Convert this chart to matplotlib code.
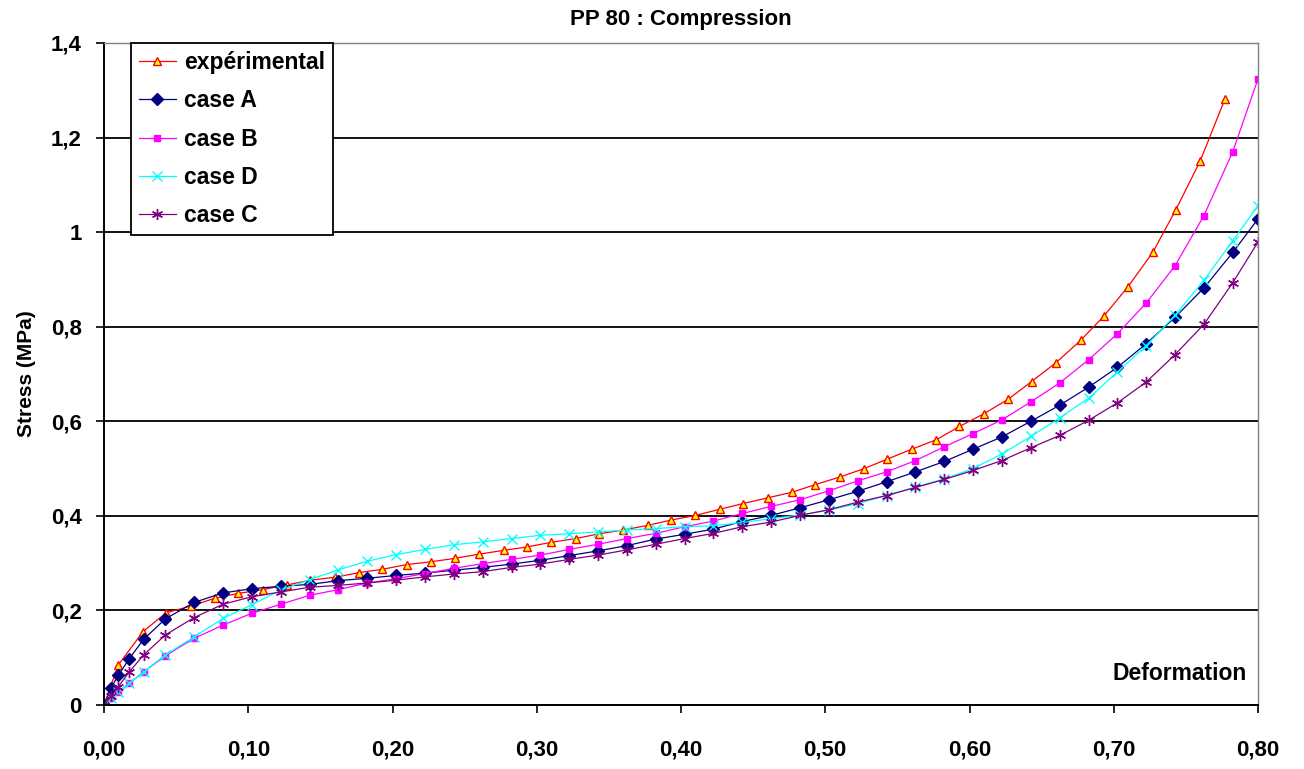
import matplotlib
matplotlib.use("Agg")
import matplotlib.pyplot as plt
from matplotlib.ticker import FixedLocator

plt.rcParams['font.family'] = ['Liberation Sans', 'DejaVu Sans']
plt.rcParams['font.weight'] = 'bold'

# experimental curve (own x sampling)
exp_x = [0, 0.010, 0.027, 0.043, 0.060, 0.077, 0.093, 0.110, 0.127, 0.143,
         0.160, 0.177, 0.193, 0.210, 0.227, 0.243, 0.260, 0.277, 0.293, 0.310,
         0.327, 0.343, 0.360, 0.377, 0.393, 0.410, 0.427, 0.443, 0.460, 0.477,
         0.493, 0.510, 0.527, 0.543, 0.560, 0.577, 0.593, 0.610, 0.627, 0.643,
         0.660, 0.677, 0.693, 0.710, 0.727, 0.743, 0.760, 0.777]
exp_y = [0, 0.085, 0.155, 0.195, 0.209, 0.226, 0.236, 0.244, 0.254, 0.264,
         0.270, 0.280, 0.287, 0.297, 0.303, 0.310, 0.319, 0.327, 0.334, 0.344,
         0.352, 0.362, 0.370, 0.380, 0.391, 0.401, 0.414, 0.426, 0.438, 0.450,
         0.466, 0.482, 0.500, 0.520, 0.541, 0.561, 0.589, 0.616, 0.647, 0.684,
         0.724, 0.771, 0.822, 0.885, 0.957, 1.047, 1.151, 1.281]

# simulated cases share the same x sampling
model_x = [0, 0.005, 0.01, 0.0175, 0.0275, 0.0425, 0.0625, 0.0825, 0.1025, 0.1225,
           0.1425, 0.1625, 0.1825, 0.2025, 0.2225, 0.2425, 0.2625, 0.2825, 0.3025, 0.3225,
           0.3425, 0.3625, 0.3825, 0.4025, 0.4225, 0.4425, 0.4625, 0.4825, 0.5025, 0.5225,
           0.5425, 0.5625, 0.5825, 0.6025, 0.6225, 0.6425, 0.6625, 0.6825, 0.7025, 0.7225,
           0.7425, 0.7625, 0.7825, 0.80]
case_a = [0, 0.037, 0.063, 0.098, 0.139, 0.182, 0.217, 0.237, 0.246, 0.251,
          0.255, 0.263, 0.268, 0.274, 0.279, 0.285, 0.291, 0.298, 0.306, 0.316,
          0.326, 0.337, 0.351, 0.361, 0.372, 0.388, 0.401, 0.417, 0.434, 0.452,
          0.472, 0.493, 0.515, 0.541, 0.567, 0.600, 0.634, 0.672, 0.714, 0.764,
          0.820, 0.882, 0.957, 1.028]
case_b = [0, 0.014, 0.028, 0.046, 0.070, 0.104, 0.141, 0.169, 0.194, 0.213,
          0.232, 0.244, 0.258, 0.267, 0.278, 0.289, 0.299, 0.308, 0.317, 0.329,
          0.340, 0.352, 0.363, 0.377, 0.389, 0.405, 0.420, 0.434, 0.453, 0.474,
          0.493, 0.517, 0.546, 0.574, 0.603, 0.641, 0.681, 0.730, 0.785, 0.850,
          0.929, 1.035, 1.170, 1.324]
case_d = [0, 0.014, 0.028, 0.046, 0.070, 0.106, 0.144, 0.183, 0.212, 0.243,
          0.265, 0.286, 0.304, 0.318, 0.329, 0.339, 0.345, 0.352, 0.359, 0.362,
          0.366, 0.370, 0.373, 0.377, 0.379, 0.386, 0.394, 0.402, 0.412, 0.426,
          0.443, 0.461, 0.478, 0.500, 0.531, 0.568, 0.607, 0.649, 0.704, 0.760,
          0.824, 0.898, 0.982, 1.056]
case_c = [0, 0.018, 0.039, 0.070, 0.106, 0.148, 0.185, 0.213, 0.229, 0.239,
          0.249, 0.253, 0.258, 0.264, 0.271, 0.277, 0.282, 0.291, 0.298, 0.308,
          0.317, 0.328, 0.340, 0.352, 0.363, 0.377, 0.387, 0.401, 0.413, 0.429,
          0.443, 0.460, 0.477, 0.496, 0.517, 0.544, 0.570, 0.602, 0.639, 0.683,
          0.741, 0.805, 0.893, 0.979]

x_ticks = [0, 0.1, 0.2, 0.3, 0.4, 0.5, 0.6, 0.7, 0.8]
x_labels = ["0,00", "0,10", "0,20", "0,30", "0,40", "0,50", "0,60", "0,70", "0,80"]
y_ticks = [0, 0.2, 0.4, 0.6, 0.8, 1.0, 1.2, 1.4]
y_labels = ["0", "0,2", "0,4", "0,6", "0,8", "1", "1,2", "1,4"]

fig = plt.figure(figsize=(13.04, 7.69), dpi=100)
ax = fig.add_axes([104 / 1304, 1 - 705 / 769, 1154 / 1304, 662 / 769])

lw = 0.9
ax.plot(exp_x, exp_y, color='#FF0000', lw=lw, marker='^', ms=5.5,
        mfc='#FFFF00', mec='#FF0000', mew=1, label='expérimental')
ax.plot(model_x, case_a, color='#000080', lw=lw, marker='D', ms=6,
        mfc='#000080', mec='#000080', label='case A')
ax.plot(model_x, case_b, color='#FF00FF', lw=lw, marker='s', ms=4.5,
        mfc='#FF00FF', mec='#FF00FF', label='case B')
ax.plot(model_x, case_d, color='#00FFFF', lw=lw, marker='x', ms=7,
        mew=1, label='case D')
ax.plot(model_x, case_c, color='#800080', lw=lw, marker=(6, 2, 0), ms=8,
        mew=1, label='case C')

ax.set_xlim(0, 0.8)
ax.set_ylim(0, 1.4)
ax.xaxis.set_major_locator(FixedLocator(x_ticks))
ax.yaxis.set_major_locator(FixedLocator(y_ticks))
ax.set_xticklabels(x_labels)
ax.set_yticklabels(y_labels)
ax.tick_params(axis='both', direction='out', length=6, width=1.2, labelsize=16, colors='black')
ax.tick_params(axis='x', pad=19)
ax.tick_params(axis='y', pad=10)

ax.grid(axis='y', color='black', lw=1.3)
ax.set_axisbelow(True)
for side in ['left', 'bottom']:
    ax.spines[side].set_color('black')
    ax.spines[side].set_linewidth(1.4)
for side in ['top', 'right']:
    ax.spines[side].set_color('#808080')
    ax.spines[side].set_linewidth(1.0)

ax.set_title("PP 80 : Compression", fontsize=16, fontweight='bold', pad=13)
ax.set_ylabel("Stress (MPa)", fontsize=15, fontweight='bold', labelpad=11)
ax.text(0.99, 0.048, "Deformation", transform=ax.transAxes, ha='right', va='center',
        fontsize=16.5, fontweight='bold')

leg = ax.legend(loc='upper left', bbox_to_anchor=(27 / 1154, 1.0), borderaxespad=0,
                fancybox=False, framealpha=1, edgecolor='black', fontsize=16.5,
                handlelength=1.6, handletextpad=0.35, labelspacing=0.67, borderpad=0.35)
leg.get_frame().set_linewidth(1.3)

fig.savefig("out.png", dpi=100)
